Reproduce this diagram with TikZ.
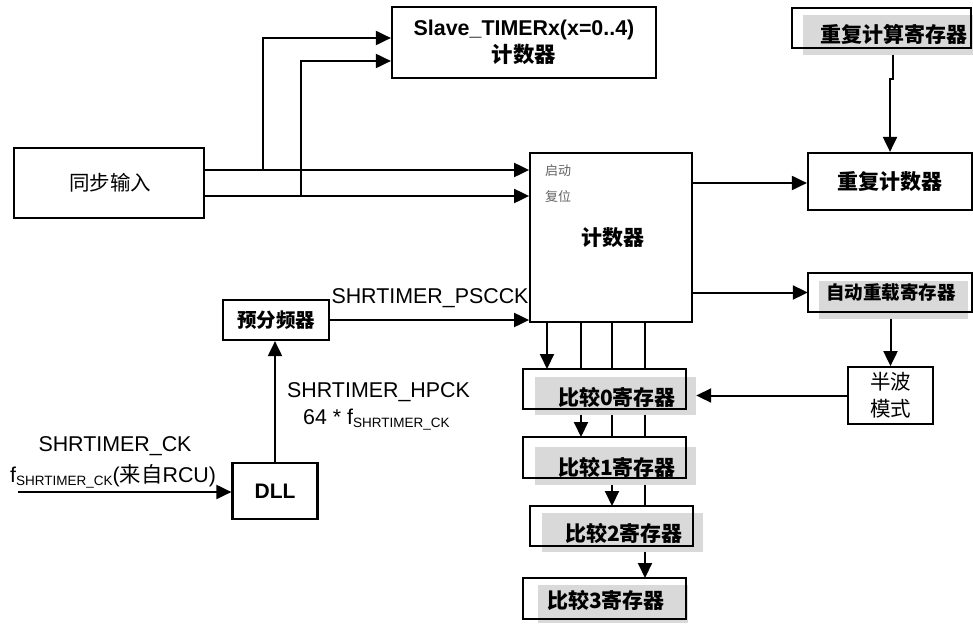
\documentclass[tikz,border=0pt]{standalone}
\usepackage{fontspec}
\setmainfont{Liberation Sans}
\newfontfamily\cjk{Noto Sans CJK SC}
\usetikzlibrary{arrows.meta,calc}
\definecolor{shadegray}{RGB}{217,217,217}
\definecolor{lblgray}{RGB}{100,100,100}
\begin{document}
\begin{tikzpicture}[x=1pt,y=-1pt,
  box/.style={draw,line width=2.2pt,fill=white,inner sep=0pt},
  thinbox/.style={draw,line width=1.8pt,fill=white,inner sep=0pt},
  whitebox/.style={fill=white,inner sep=0pt},
  graybox/.style={fill=shadegray,inner sep=0pt},
  boxline/.style={line width=2.2pt},
  regtext/.style={inner sep=0pt,font={\cjk\bfseries\fontsize{21}{25}\selectfont}},
  lbl/.style={inner sep=0pt,font={\fontsize{21.4}{25}\selectfont}},
  smalllbl/.style={inner sep=0pt,text=lblgray,font={\cjk\fontsize{13}{15}\selectfont}},
  arr/.style={line width=2pt,-{Triangle[length=15pt,width=14pt]}},
  ln/.style={line width=2pt}]
\useasboundingbox (0,0) rectangle (973,623);

% ---------- coordinates for connector routing ----------
\coordinate (ya) at (0,170);
\coordinate (yb) at (0,196);
\coordinate (xa) at (263,0);
\coordinate (xb) at (301,0);
\coordinate (ysa) at (0,38);
\coordinate (ysb) at (0,61);
\coordinate (yrep) at (0,183);
\coordinate (v1) at (547,0);
\coordinate (v2) at (581,0);
\coordinate (v3) at (612,0);
\coordinate (v4) at (645,0);
\coordinate (j1) at (893,79);
\coordinate (inp) at (18,492);

% ---------- main boxes ----------
\node[thinbox,minimum width=190pt,minimum height=70pt] (sync) at (109,183) {};
\node[inner sep=0pt,font={\cjk\fontsize{20.5}{24}\selectfont}] (synctxt) at (110,183) {同步输入};
\node[box,minimum width=264pt,minimum height=71pt,align=center,
  font={\bfseries\fontsize{21.4}{27}\selectfont}] (slave) at (524,42.5)
  {Slave\_TIMERx(x=0..4)\\{\cjk\bfseries 计数器}};
\node[thinbox,minimum width=162pt,minimum height=169pt] (cnt) at (611,237.5) {};
\node[regtext] (cnttxt) at (613,238) {计数器};
\node[smalllbl] (lstart) at (558,171) {启动};
\node[smalllbl] (lreset) at (558,197) {复位};

\node[box,minimum width=164pt,minimum height=57pt] (rep) at (890,181.5)
  {\cjk\bfseries\fontsize{21}{25}\selectfont 重复计数器};
\node[thinbox,minimum width=85pt,minimum height=57pt,align=center,
  font={\cjk\fontsize{20.5}{27}\selectfont}] (half) at (890.5,395.5) {半波\\模式};
\node[box,minimum width=106pt,minimum height=40pt] (presc) at (276,320)
  {\cjk\bfseries\fontsize{19.5}{22}\selectfont 预分频器};
\node[box,minimum width=85pt,minimum height=56pt] (dll) at (275,491)
  {\bfseries\fontsize{21}{25}\selectfont DLL};

% ---------- vertical buses from the counter (drawn behind registers) ----------
\draw[arr] (cnt.south -| v1) -- (v1 |- 0,369);
\draw[arr] (cnt.south -| v2) -- (v2 |- 0,437);
\draw[arr] (cnt.south -| v3) -- (v3 |- 0,506);
\draw[arr] (cnt.south -| v4) -- (v4 |- 0,578);

% ---------- register boxes with gray shading ----------
% repeat calculation register
\node[whitebox,minimum width=179pt,minimum height=40pt] (repreg) at (881.5,28) {};
\node[graybox,minimum width=170pt,minimum height=40pt] (grep) at (888,35) {};
\draw[boxline] (repreg.north west) rectangle (repreg.south east);
\node[regtext] (trep) at (894,34) {重复计算寄存器};
% auto reload register
\node[whitebox,minimum width=164pt,minimum height=39pt] (autoreg) at (890,292.5) {};
\node[graybox,minimum width=149pt,minimum height=38pt] (gauto) at (893,299.5) {};
\draw[boxline] (autoreg.north west) rectangle (autoreg.south east);
\node[regtext,font={\cjk\bfseries\fontsize{18.5}{22}\selectfont}] (tauto) at (891,293) {自动重载寄存器};
% compare 0
\node[whitebox,minimum width=163pt,minimum height=40pt] (c0) at (604.5,389) {};
\node[graybox,minimum width=161pt,minimum height=38pt] (g0) at (615.5,396) {};
\draw[boxline] (c0.north west) rectangle (c0.south east);
\node[regtext] (t0) at (617,397) {比较0寄存器};
% compare 1
\node[whitebox,minimum width=163pt,minimum height=41pt] (c1) at (604.5,457.5) {};
\node[graybox,minimum width=161pt,minimum height=38pt] (g1) at (615.5,466) {};
\draw[boxline] (c1.north west) rectangle (c1.south east);
\node[regtext] (t1) at (617,467) {比较1寄存器};
% compare 2
\node[whitebox,minimum width=163pt,minimum height=40pt] (c2) at (611.5,526) {};
\node[graybox,minimum width=161pt,minimum height=39pt] (g2) at (622.5,532.5) {};
\draw[boxline] (c2.north west) rectangle (c2.south east);
\node[regtext] (t2) at (624,533) {比较2寄存器};
% compare 3
\node[whitebox,minimum width=163pt,minimum height=41pt] (c3) at (604.5,598.5) {};
\node[graybox,minimum width=150pt,minimum height=38pt] (g3) at (613,604) {};
\draw[boxline] (c3.north west) rectangle (c3.south east);
\node[regtext] (t3) at (606,600) {比较3寄存器};

% ---------- connectors ----------
\draw[arr] (sync.east |- ya) -- (cnt.west |- ya);
\draw[arr] (sync.east |- yb) -- (cnt.west |- yb);
\draw[arr] (xa |- ya) -- (xa |- ysa) -- (slave.west |- ysa);
\draw[arr] (xb |- yb) -- (xb |- ysb) -- (slave.west |- ysb);
\draw[arr] (cnt.east |- yrep) -- (rep.west |- yrep);
\draw[arr] (cnt.east |- autoreg.west) -- (autoreg.west);
\draw[arr] (grep.south -| j1) -- (j1) -| (rep.north);
\draw[arr] (gauto.south -| half.north) -- (half.north);
\draw[arr] (half.west) -- (g0.east |- half.west);
\draw[arr] (presc.east) -- (cnt.west |- presc.east);
\draw[arr] (dll.north) -- (dll.north |- presc.south);
\draw[arr] (inp) -- (dll.west |- inp);

% ---------- labels ----------
\node[lbl] (pscck) at (430,298) {SHRTIMER\_PSCCK};
\node[lbl,anchor=west] (hpck) at (287,392) {SHRTIMER\_HPCK};
\node[lbl,anchor=base west] (hpckf) at (303,424)
  {64 * f\raisebox{-3pt}{\fontsize{13.5}{15}\selectfont SHRTIMER\_CK}};
\node[lbl] (ckname) at (115,446) {SHRTIMER\_CK};
\node[lbl,anchor=base west] (ckf) at (10,482)
  {f\raisebox{-3pt}{\fontsize{13.5}{15}\selectfont SHRTIMER\_CK}({\cjk 来自}RCU)};
\end{tikzpicture}
\end{document}
